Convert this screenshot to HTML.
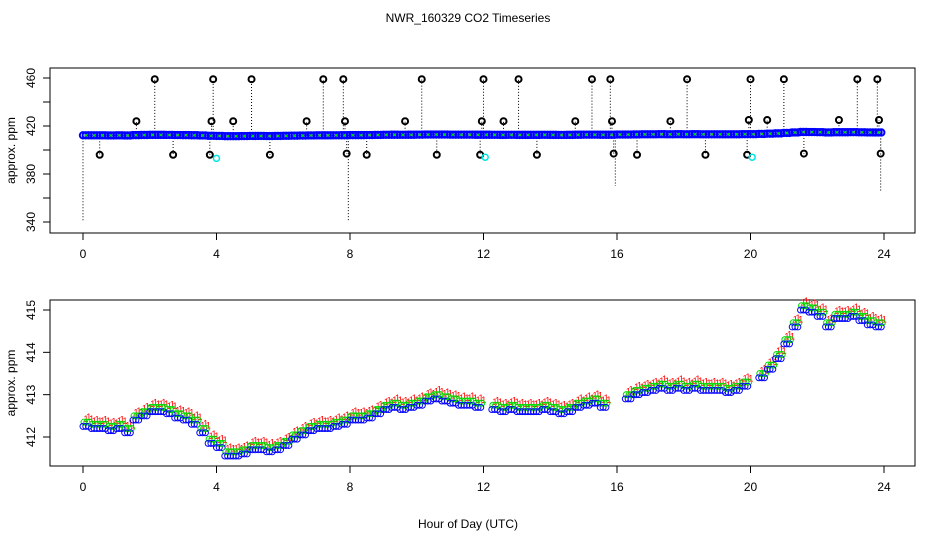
<!DOCTYPE html>
<html><head><meta charset="utf-8"><style>
body{margin:0;background:#fff;}
svg{display:block;font-family:"Liberation Sans",sans-serif;}
</style></head><body>
<svg id="chart" width="936" height="540" viewBox="0 0 936 540">
<text x="468" y="22" text-anchor="middle" font-size="12">NWR_160329  CO2 Timeseries</text>
<g id="topPanel"></g>
<g id="botPanel"></g>
<text x="468" y="528" text-anchor="middle" font-size="12">Hour of Day (UTC)</text>
</svg>
<script>
const hours = [];
for (let i = 0; i < 96; i++) hours.push(i * 0.25);
const ppmBlue = [412.25,412.2,412.2,412.15,412.2,412.1,412.4,412.5,412.6,412.6,412.55,412.45,412.4,412.3,412.1,411.85,
411.75,411.55,411.55,411.6,411.7,411.7,411.65,411.7,411.8,411.95,412.05,412.15,412.2,412.2,412.25,412.3,
412.4,412.4,412.45,412.55,412.65,412.7,412.65,412.7,412.75,412.85,412.9,412.85,412.8,412.75,412.75,412.7,
null,412.65,412.6,412.65,412.6,412.6,412.6,412.65,412.6,412.55,412.6,412.7,412.75,412.8,412.7,null,
null,412.9,413.0,413.05,413.1,413.15,413.1,413.15,413.1,413.15,413.1,413.1,413.1,413.05,413.1,413.2,
null,413.4,413.6,413.85,414.2,414.6,415.0,414.95,414.85,414.6,414.8,414.8,414.85,414.75,414.65,414.6];
const greenOffset = [0.1];
const outHours = [0.5,1.6,2.15,2.7,3.8,3.85,3.9,4.5,5.05,5.6,6.7,7.2,7.8,7.85,7.9,8.5,9.65,10.15,10.6,11.9,11.95,12.0,12.6,13.05,13.6,14.75,15.25,15.8,15.85,15.9,16.6,17.6,18.1,18.65,19.9,19.95,20.0,20.5,21.0,21.6,22.65,23.2,23.8,23.85,23.9];
const outPpm = [396,424,459,396,396,424,459,424,459,396,424,459,459,424,397,396,424,459,396,396,424,459,424,459,396,424,459,459,424,397,396,424,459,396,396,425,459,425,459,397,425,459,459,425,397];
const cyanHours = [4.0,12.05,20.05];
const cyanPpm = [393,394,394];
const dropHours = [0.0,7.95,15.95,23.9];
const dropPpm = [340,340,370,365];
const xTicks = [0,4,8,12,16,20,24];
const topTicks = [340,380,420,460];
const topMinor = [360,400,440];
const botTicks = [412,413,414,415];

const NS = "http://www.w3.org/2000/svg";
function mk(parent, tag, attrs){const e=document.createElementNS(NS,tag);for(const k in attrs)e.setAttribute(k,attrs[k]);parent.appendChild(e);return e;}
const xs = h => 83 + h * (884-83)/24;
const yTop = v => 78 + (460 - v) * 1.2;
const yBot = v => 310 + (415 - v) * 42.33;

function frame(g, y0, y1, yf, ticks, minor, name){
  const box = mk(g,'rect',{x:50,y:y0,width:865,height:y1-y0,fill:'none',stroke:'#000','stroke-width':1});
  
  
  xTicks.forEach(t=>{
    const l = mk(g,'line',{x1:xs(t),x2:xs(t),y1:y1,y2:y1+7,stroke:'#000'});
    
    
    const tx = mk(g,'text',{x:xs(t),y:y1+25,'text-anchor':'middle','font-size':12});
    tx.textContent = t;
    
    
  });
  ticks.concat(minor).forEach(t=>{
    const l = mk(g,'line',{x1:43,x2:50,y1:yf(t),y2:yf(t),stroke:'#000'});
    
    
  });
  ticks.forEach(t=>{
    const tx = mk(g,'text',{x:0,y:0,'text-anchor':'middle','font-size':12,transform:`translate(35,${yf(t)}) rotate(-90)`});
    tx.textContent = t;
    
    
  });
  const yt = mk(g,'text',{x:0,y:0,'text-anchor':'middle','font-size':12,transform:`translate(15,${(y0+y1)/2}) rotate(-90)`});
  yt.textContent = 'approx. ppm';
  
  
}

const topG = document.getElementById('topPanel');
frame(topG, 68, 233, yTop, topTicks, topMinor, 'top');
const base = h => { const i=Math.min(95,Math.max(0,Math.round(h*4))); let v=ppmBlue[i]; if(v==null) v=ppmBlue[i-1]||ppmBlue[i+1]||412.5; return v; };
dropHours.forEach((h,i)=>{
  const l = mk(topG,'line',{x1:xs(h),x2:xs(h),y1:yTop(base(h)),y2:yTop(dropPpm[i]),stroke:'#000','stroke-dasharray':'1,2'});
  
  
});
outHours.forEach((h,i)=>{
  const l = mk(topG,'line',{x1:xs(h),x2:xs(h),y1:yTop(base(h)),y2:yTop(outPpm[i]),stroke:'#000','stroke-dasharray':'1,2'});
  
  
});
for (let i=0;i<96;i++){
  const v = ppmBlue[i]==null ? base(hours[i]) : ppmBlue[i];
  for (let k=0;k<3;k++){
    const c = mk(topG,'circle',{cx:xs(hours[i])+k*2.8,cy:yTop(v),r:3.2,fill:'none',stroke:'#0000ff','stroke-width':2});
    
    
  }
  const g = mk(topG,'circle',{cx:xs(hours[i])+3,cy:yTop(v),r:1.3,fill:'#00dd00'});
  
  
}
outHours.forEach((h,i)=>{
  const c = mk(topG,'circle',{cx:xs(h),cy:yTop(outPpm[i]),r:3,fill:'none',stroke:'#000','stroke-width':2});
  
  
});
cyanHours.forEach((h,i)=>{
  const c = mk(topG,'circle',{cx:xs(h),cy:yTop(cyanPpm[i]),r:3,fill:'none',stroke:'#00e5e5','stroke-width':1.5});
  
  
});

const botG = document.getElementById('botPanel');
frame(botG, 300, 466, yBot, botTicks, [], 'bottom');
for (let i=0;i<96;i++){ const v=ppmBlue[i]; if(v==null) continue;
  for (let k=0;k<3;k++){
    const x = xs(hours[i])+k*2.8;
    const r = mk(botG,'text',{x:x+3,y:yBot(v+0.2+(k%2)*0.04)+4,'font-size':9,fill:'#ff0000','text-anchor':'middle'});
    r.textContent = '1';
    
    
    const g = mk(botG,'circle',{cx:x+1,cy:yBot(v+greenOffset[0]),r:3,fill:'none',stroke:'#00dd00','stroke-width':1});
    
    
    const b = mk(botG,'circle',{cx:x,cy:yBot(v),r:3,fill:'none',stroke:'#0000ff','stroke-width':1});
    
    
  }
}
</script>
</body></html>
